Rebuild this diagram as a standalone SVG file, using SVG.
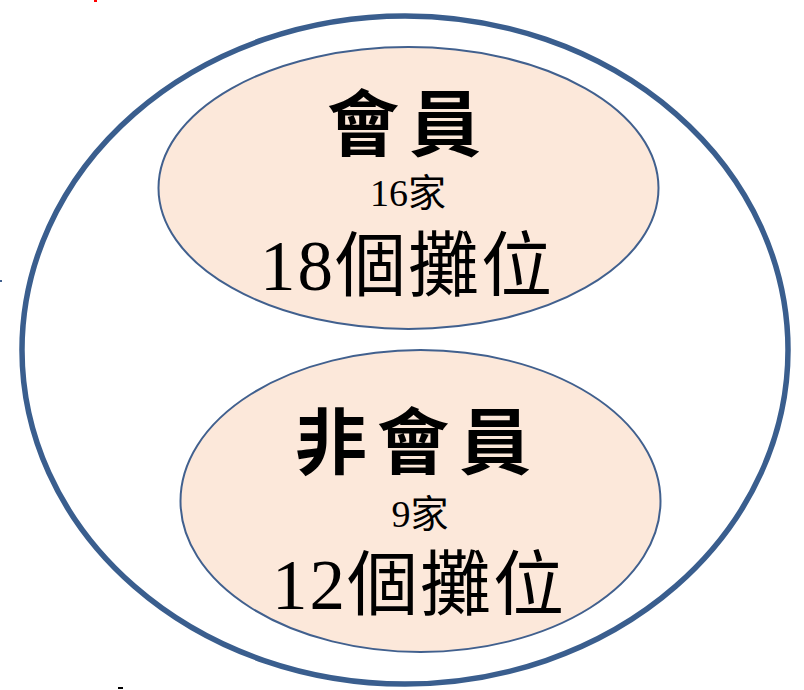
<svg xmlns="http://www.w3.org/2000/svg" width="804" height="690" viewBox="0 0 804 690">
<style>
.inner{fill:#FCE8DA;stroke:#41608E;stroke-width:2}
.outer{fill:#FFFFFF;stroke:#3A5E8E;stroke-width:5.5}
text{font-family:"Liberation Serif","Noto Sans CJK TC",serif;fill:#000;text-anchor:middle}
.title{font-size:72px;font-weight:bold;letter-spacing:10px}
.sub{font-size:38px}
.big{font-size:71px;letter-spacing:2px}
</style>
<rect width="804" height="690" fill="#FFFFFF"/>
<g id="outer">
<ellipse class="outer" cx="405" cy="350" rx="383" ry="334"/>
</g>
<g id="member">
<ellipse class="inner" cx="408.5" cy="188" rx="250" ry="141"/>
<text class="title" x="409" y="150">會員</text>
<text class="sub" x="408" y="206">16家</text>
<text class="big" x="407" y="290">18個攤位</text>
</g>
<g id="nonmember">
<ellipse class="inner" cx="420.5" cy="501" rx="240" ry="151"/>
<text class="title" x="418" y="468">非會員</text>
<text class="sub" x="420" y="527">9家</text>
<text class="big" x="419" y="609">12個攤位</text>
</g>
<g id="connectors"/>
<rect x="94" y="0" width="3" height="2" fill="#FF0000"/>
<rect x="0" y="280" width="2" height="2" fill="#41608E"/>
<rect x="118" y="687" width="5" height="2" fill="#000000"/>
</svg>
